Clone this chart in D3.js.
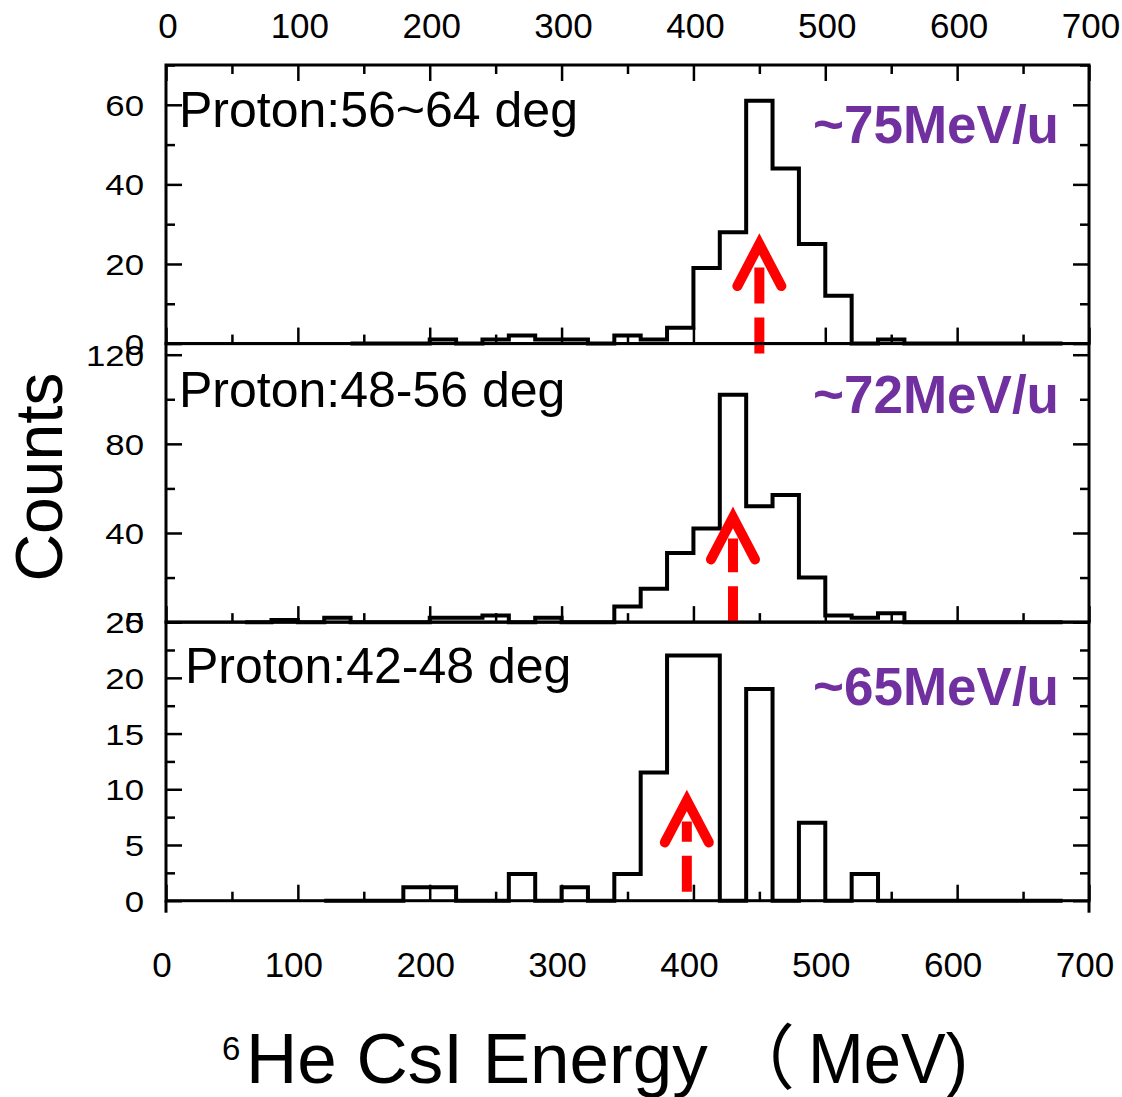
<!DOCTYPE html>
<html>
<head>
<meta charset="utf-8">
<script src="https://cdn.jsdelivr.net/npm/d3@7"></script>
<style>
  html, body { margin: 0; padding: 0; background: #fff; }
  svg { display: block; }
  text { font-family: "Liberation Sans", Arial, "Noto Sans CJK SC", sans-serif; }
</style>
</head>
<body>
<svg id="chart" width="1122" height="1097"></svg>
<script>
// ---- data -------------------------------------------------------------
// Energy axis (MeV)
const energyTicks = [0, 100, 200, 300, 400, 500, 600, 700];
const energyMinor = [50, 150, 250, 350, 450, 550, 650];
const binWidth = 20;

// Panel 1: proton 56~64 deg (bins of 20 MeV starting at 140 MeV)
const p1Start = 140;
const p1Counts = [0, 0, 0, 1, 0, 1, 2, 1, 1, 0, 2, 1, 4, 19, 28, 61, 44, 25, 12, 0, 1, 0, 0, 0, 0, 0, 0];
const p1Ticks = [0, 20, 40, 60];
const p1Minor = [10, 30, 50, 70];

// Panel 2: proton 48-56 deg (bins starting at 60 MeV)
const p2Start = 60;
const p2Counts = [0, 1, 0, 2, 0, 0, 0, 2, 2, 3, 0, 2, 0, 0, 7, 15, 31, 42, 102, 52, 57, 20, 3, 2, 4, 0, 0, 0, 0, 0, 0];
const p2Ticks = [0, 40, 80, 120];
const p2Minor = [20, 60, 100];

// Panel 3: proton 42-48 deg (bins starting at 120 MeV)
const p3Start = 120;
const p3Counts = [0, 0, 0, 1.2, 1.2, 0, 0, 2.4, 0, 1.2, 0, 2.4, 11.5, 22, 22, 0, 19, 0, 7, 0, 2.4, 0, 0, 0, 0, 0, 0, 0];
const p3Ticks = [0, 5, 10, 15, 20, 25];
const p3Minor = [2.5, 7.5, 12.5, 17.5, 22.5];

const angleLabels = ["Proton:56~64 deg", "Proton:48-56 deg", "Proton:42-48 deg"];
const beamLabels = ["~75MeV/u", "~72MeV/u", "~65MeV/u"];

// Marked peak energies: arrow x (MeV), arrowhead vertex and tail (counts)
const arrowEnergy = [450, 430, 395];
const arrowTip = [25, 47, 9];
const arrowTail = [-2.5, 0, 0.8];

// ---- layout -----------------------------------------------------------
const frame = { left: 166, right: 1089, top: 65, bottom: 900.7 };
const panelH = (frame.bottom - frame.top) / 3;
const majorLen = 16, minorLen = 9;

const panels = [
  { start: p1Start, counts: p1Counts, ticks: p1Ticks, minor: p1Minor, max: 70,
    labelPos: [179, 127], beamPos: [1059, 143] },
  { start: p2Start, counts: p2Counts, ticks: p2Ticks, minor: p2Minor, max: 125,
    labelPos: [179, 407], beamPos: [1059, 413] },
  { start: p3Start, counts: p3Counts, ticks: p3Ticks, minor: p3Minor, max: 25,
    labelPos: [185, 683], beamPos: [1059, 705] }
];

const svg = d3.select("#chart");
const x = d3.scaleLinear().domain([0, 700]).range([frame.left, frame.right]);

function tickStyle(g, w) {
  g.select(".domain").remove();
  g.selectAll(".tick line").attr("stroke", "#000").attr("stroke-width", w);
}

// Top energy axis: inward ticks and labels above the frame
svg.append("g").attr("transform", `translate(0,${frame.top})`)
  .call(d3.axisTop(x).tickValues(energyTicks).tickSize(-majorLen).tickFormat(""))
  .call(tickStyle, 2.5);
svg.append("g").attr("transform", `translate(0,${frame.top})`)
  .call(d3.axisTop(x).tickValues(energyMinor).tickSize(-minorLen).tickFormat(""))
  .call(tickStyle, 2.5);
svg.append("g").selectAll("text").data(energyTicks).join("text")
  .attr("x", d => x(d) + 2).attr("y", 38)
  .attr("text-anchor", "middle").attr("font-size", 35).text(d => d);

panels.forEach((p, i) => {
  const top = frame.top + i * panelH;
  const bottom = top + panelH;
  const y = d3.scaleLinear().domain([0, p.max]).range([bottom, top]);
  const g = svg.append("g");

  // inward ticks: left, right, bottom
  g.append("g").attr("transform", `translate(${frame.left},0)`)
    .call(d3.axisLeft(y).tickValues(p.ticks).tickSize(-majorLen).tickFormat(""))
    .call(tickStyle, 2.5);
  g.append("g").attr("transform", `translate(${frame.left},0)`)
    .call(d3.axisLeft(y).tickValues(p.minor).tickSize(-minorLen).tickFormat(""))
    .call(tickStyle, 2.5);
  g.append("g").attr("transform", `translate(${frame.right},0)`)
    .call(d3.axisRight(y).tickValues(p.ticks).tickSize(-majorLen).tickFormat(""))
    .call(tickStyle, 2.5);
  g.append("g").attr("transform", `translate(${frame.right},0)`)
    .call(d3.axisRight(y).tickValues(p.minor).tickSize(-minorLen).tickFormat(""))
    .call(tickStyle, 2.5);
  g.append("g").attr("transform", `translate(0,${bottom})`)
    .call(d3.axisBottom(x).tickValues(energyTicks).tickSize(-majorLen).tickFormat(""))
    .call(tickStyle, 2.5);
  g.append("g").attr("transform", `translate(0,${bottom})`)
    .call(d3.axisBottom(x).tickValues(energyMinor).tickSize(-minorLen).tickFormat(""))
    .call(tickStyle, 2.5);

  // count labels (wide digits)
  g.append("g").selectAll("text").data(p.ticks).join("text")
    .attr("transform", d => `translate(144,${y(d) + 11}) scale(1.16,1)`)
    .attr("text-anchor", "end").attr("font-size", 30).text(d => d);

  // histogram as a step outline
  const pts = p.counts.map((c, k) => [p.start + k * binWidth, c]);
  pts.push([p.start + p.counts.length * binWidth, p.counts[p.counts.length - 1]]);
  const line = d3.line().x(d => x(d[0])).y(d => y(d[1])).curve(d3.curveStepAfter);
  g.append("path").attr("d", line(pts))
    .attr("fill", "none").attr("stroke", "#000").attr("stroke-width", 4)
    .attr("stroke-linejoin", "miter");

  // panel frame
  g.append("rect").attr("x", frame.left).attr("y", top)
    .attr("width", frame.right - frame.left).attr("height", panelH)
    .attr("fill", "none").attr("stroke", "#000").attr("stroke-width", 3);

  // text labels
  g.append("text").attr("x", p.labelPos[0]).attr("y", p.labelPos[1])
    .attr("font-size", 50).attr("fill", "#000").text(angleLabels[i]);
  g.append("text").attr("x", p.beamPos[0]).attr("y", p.beamPos[1])
    .attr("text-anchor", "end").attr("font-size", 53).attr("font-weight", "bold")
    .attr("fill", "#7030a0").text(beamLabels[i]);

  // red dashed arrow marking the peak
  const ax = x(arrowEnergy[i]);
  const tipY = y(arrowTip[i]);
  g.append("line")
    .attr("x1", ax).attr("x2", ax)
    .attr("y1", y(arrowTail[i])).attr("y2", tipY + 21)
    .attr("stroke", "#ff0000").attr("stroke-width", 10)
    .attr("stroke-dasharray", "36 14");
  g.append("path")
    .attr("d", `M${ax - 22},${tipY + 42}L${ax},${tipY}L${ax + 22},${tipY + 42}`)
    .attr("fill", "none").attr("stroke", "#ff0000").attr("stroke-width", 10)
    .attr("stroke-linecap", "round").attr("stroke-linejoin", "miter");
});

// frame sides run a little below the lowest axis
[frame.left, frame.right].forEach(fx => {
  svg.append("line").attr("x1", fx).attr("x2", fx)
    .attr("y1", frame.bottom).attr("y2", frame.bottom + 12)
    .attr("stroke", "#000").attr("stroke-width", 3);
});

// bottom energy labels
svg.append("g").selectAll("text").data(energyTicks).join("text")
  .attr("x", d => x(d) - 4).attr("y", 977)
  .attr("text-anchor", "middle").attr("font-size", 35).text(d => d);

// axis titles
svg.append("text")
  .attr("transform", "translate(62,477) rotate(-90)")
  .attr("text-anchor", "middle").attr("font-size", 66).text("Counts");

const title = svg.append("text").attr("y", 1083);
title.append("tspan").attr("x", 222).attr("font-size", 33).attr("dy", -23).text("6");
title.append("tspan").attr("x", 246).attr("font-size", 71).attr("dy", 23).text("He CsI Energy");
title.append("tspan").attr("x", 724).attr("font-size", 71).text("（");
title.append("tspan").attr("x", 808).attr("font-size", 71)
  .attr("textLength", 160).attr("lengthAdjust", "spacingAndGlyphs").text("MeV)");
</script>
</body>
</html>
